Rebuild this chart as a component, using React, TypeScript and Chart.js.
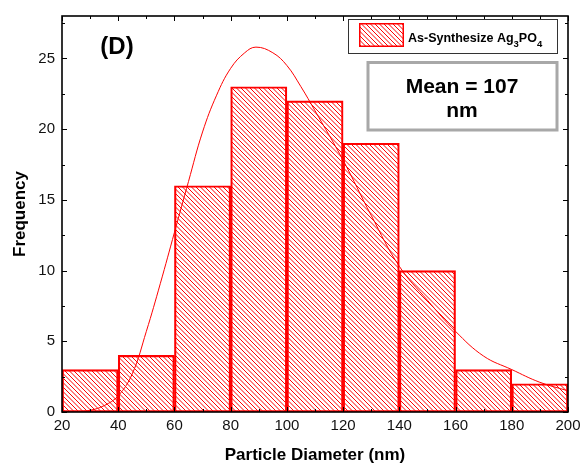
import { useEffect, useRef } from "react";
import { Chart, registerables } from "chart.js";

Chart.register(...registerables);

// ---- data ----
const binCenters = [30, 50, 70, 90, 110, 130, 150, 170, 190];
const frequencies = [3, 4, 16, 23, 22, 19, 10, 3, 2];

const fitX = [20, 25, 30, 35, 40, 45, 50, 55, 60, 65, 70, 75, 80, 85, 89, 95, 100, 105, 110, 120, 130, 140, 150, 160, 170, 180, 190, 200];
const fitY = [0, 0.02, 0.12, 0.45, 1.15, 2.7, 5.7, 9.1, 12.7, 16.3, 19.8, 22.4, 24.3, 25.4, 25.8, 25.4, 24.5, 23.0, 21.3, 17.8, 13.9, 10.3, 7.9, 5.7, 3.95, 3.0, 2.1, 1.5];

const xMin = 20;
const xMax = 200;
const xStep = 20;
const xMinorStep = 10;
const yMin = 0;
const yMax = 28;
const yStep = 5;
const yMinorStep = 2.5;

const panelLabel = "(D)";
const legendMain = "As-Synthesize Ag";
const legendSub1 = "3";
const legendMid = "PO";
const legendSub2 = "4";
const meanLine1 = "Mean = 107";
const meanLine2 = "nm";
const xTitle = "Particle Diameter (nm)";
const yTitle = "Frequency";

const FONT = "'Liberation Sans', Arial, Helvetica, sans-serif";
const RED = "#ff0000";

function makeHatch(ctx: CanvasRenderingContext2D): CanvasPattern | string {
  const tile = document.createElement("canvas");
  tile.width = 9;
  tile.height = 9;
  const g = tile.getContext("2d");
  if (!g) return RED;
  g.strokeStyle = RED;
  g.lineWidth = 1;
  for (let k = -2; k <= 2; k++) {
    const o = k * 4.5;
    g.beginPath();
    g.moveTo(o, 0);
    g.lineTo(o + 9, 9);
    g.stroke();
  }
  return ctx.createPattern(tile, "repeat") || RED;
}

const framePlugin = {
  id: "frameTicks",
  afterDatasetsDraw(chart: any) {
    const { ctx, chartArea } = chart;
    const xs = chart.scales.x;
    const ys = chart.scales.y;
    const { left, right, top, bottom } = chartArea;
    ctx.save();
    ctx.strokeStyle = "#000";
    ctx.lineWidth = 1;
    for (let v = xMin; v <= xMax + 1e-9; v += xMinorStep) {
      const px = Math.round(xs.getPixelForValue(v)) + 0.5;
      const major = Math.abs((v - xMin) % xStep) < 1e-9;
      const len = major ? 5 : 3;
      ctx.beginPath();
      ctx.moveTo(px, bottom);
      ctx.lineTo(px, bottom - len);
      ctx.moveTo(px, top);
      ctx.lineTo(px, top + len);
      ctx.stroke();
    }
    for (let v = yMin; v <= yMax + 1e-9; v += yMinorStep) {
      const py = Math.round(ys.getPixelForValue(v)) + 0.5;
      const major = Math.abs(v % yStep) < 1e-9;
      const len = major ? 5 : 3;
      ctx.beginPath();
      ctx.moveTo(left, py);
      ctx.lineTo(left + len, py);
      ctx.moveTo(right, py);
      ctx.lineTo(right - len, py);
      ctx.stroke();
    }
    ctx.lineWidth = 1.6;
    ctx.strokeRect(left, top, right - left, bottom - top);
    ctx.restore();
  },
  afterDraw(chart: any) {
    const { ctx } = chart;
    const hatch = chart.$hatch;
    ctx.save();
    ctx.fillStyle = "#000";
    ctx.font = `bold 24px ${FONT}`;
    ctx.textAlign = "center";
    ctx.textBaseline = "alphabetic";
    ctx.fillText(panelLabel, 117, 54);

    // legend box
    ctx.fillStyle = "#fff";
    ctx.fillRect(349, 20, 208, 33);
    ctx.strokeStyle = "#333";
    ctx.lineWidth = 1;
    ctx.strokeRect(348.5, 19.5, 209, 34);
    ctx.fillStyle = hatch;
    ctx.fillRect(360, 24, 43, 22);
    ctx.strokeStyle = RED;
    ctx.lineWidth = 1.5;
    ctx.strokeRect(359.75, 23.75, 43.5, 22.5);
    ctx.fillStyle = "#000";
    ctx.textAlign = "left";
    let x = 408;
    const base = 42;
    ctx.font = `bold 12.5px ${FONT}`;
    ctx.fillText(legendMain, x, base);
    x += ctx.measureText(legendMain).width;
    ctx.font = `bold 9.5px ${FONT}`;
    ctx.fillText(legendSub1, x, base + 5);
    x += ctx.measureText(legendSub1).width;
    ctx.font = `bold 12.5px ${FONT}`;
    ctx.fillText(legendMid, x, base);
    x += ctx.measureText(legendMid).width;
    ctx.font = `bold 9.5px ${FONT}`;
    ctx.fillText(legendSub2, x, base + 5);

    // mean box
    ctx.fillStyle = "#fff";
    ctx.fillRect(368, 62, 189, 68);
    ctx.strokeStyle = "#a8a8a8";
    ctx.lineWidth = 3;
    ctx.strokeRect(368, 62.5, 189, 67.5);
    ctx.fillStyle = "#000";
    ctx.textAlign = "center";
    ctx.font = `bold 21px ${FONT}`;
    ctx.fillText(meanLine1, 462, 93);
    ctx.fillText(meanLine2, 462, 117);
    ctx.restore();
  },
};

export default function App() {
  const ref = useRef<HTMLCanvasElement | null>(null);

  useEffect(() => {
    document.body.style.margin = "0";
    const canvas = ref.current;
    if (!canvas) return;
    const ctx = canvas.getContext("2d");
    if (!ctx) return;
    const hatch = makeHatch(ctx);

    const barData = binCenters.map((x, i) => ({ x, y: frequencies[i] }));
    const fitData = fitX.map((x, i) => ({ x, y: fitY[i] }));

    const chart = new Chart(ctx, {
      type: "bar",
      data: {
        datasets: [
          {
            type: "line",
            label: "fit",
            data: fitData,
            borderColor: RED,
            borderWidth: 1,
            pointRadius: 0,
            fill: false,
            tension: 0.4,
            order: 0,
          } as any,
          {
            type: "bar",
            label: "As-Synthesize Ag3PO4",
            data: barData,
            backgroundColor: hatch as any,
            borderColor: RED,
            borderWidth: 1.5,
            borderSkipped: false,
            barPercentage: 1,
            categoryPercentage: 1,
            grouped: false,
            order: 1,
          } as any,
        ],
      },
      options: {
        responsive: false,
        animation: false,
        events: [],
        layout: { padding: { left: 0, right: 19, top: 9, bottom: 0 } },
        plugins: {
          legend: { display: false },
          tooltip: { enabled: false },
        },
        scales: {
          x: {
            type: "linear",
            min: xMin,
            max: xMax,
            offset: false,
            grid: { display: false, drawTicks: false },
            border: { display: false },
            ticks: {
              stepSize: xStep,
              includeBounds: false,
              padding: 5,
              color: "#111",
              font: { family: FONT, size: 15 },
              maxRotation: 0,
              autoSkip: false,
            },
            title: {
              display: true,
              text: xTitle,
              color: "#000",
              font: { family: FONT, size: 17, weight: "bold" },
              padding: { top: 0, bottom: 2 },
            },
            afterFit(scale: any) {
              scale.height = 56;
            },
          },
          y: {
            type: "linear",
            min: yMin,
            max: yMax,
            grid: { display: false, drawTicks: false },
            border: { display: false },
            ticks: {
              stepSize: yStep,
              includeBounds: false,
              padding: 7,
              color: "#111",
              font: { family: FONT, size: 15 },
              callback: (v: any) => (Number(v) % yStep === 0 ? String(v) : ""),
            },
            title: {
              display: true,
              text: yTitle,
              color: "#000",
              font: { family: FONT, size: 17, weight: "bold" },
              padding: { top: 10, bottom: 0 },
            },
            afterFit(scale: any) {
              scale.width = 62;
            },
          },
        },
      },
      plugins: [framePlugin],
    });
    (chart as any).$hatch = hatch;
    chart.draw();

    return () => {
      chart.destroy();
    };
  }, []);

  return (
    <div style={{ position: "absolute", left: 0, top: 0, width: 587, height: 468, background: "#fff" }}>
      <canvas ref={ref} width={587} height={468} style={{ display: "block", width: 587, height: 468 }} />
    </div>
  );
}
